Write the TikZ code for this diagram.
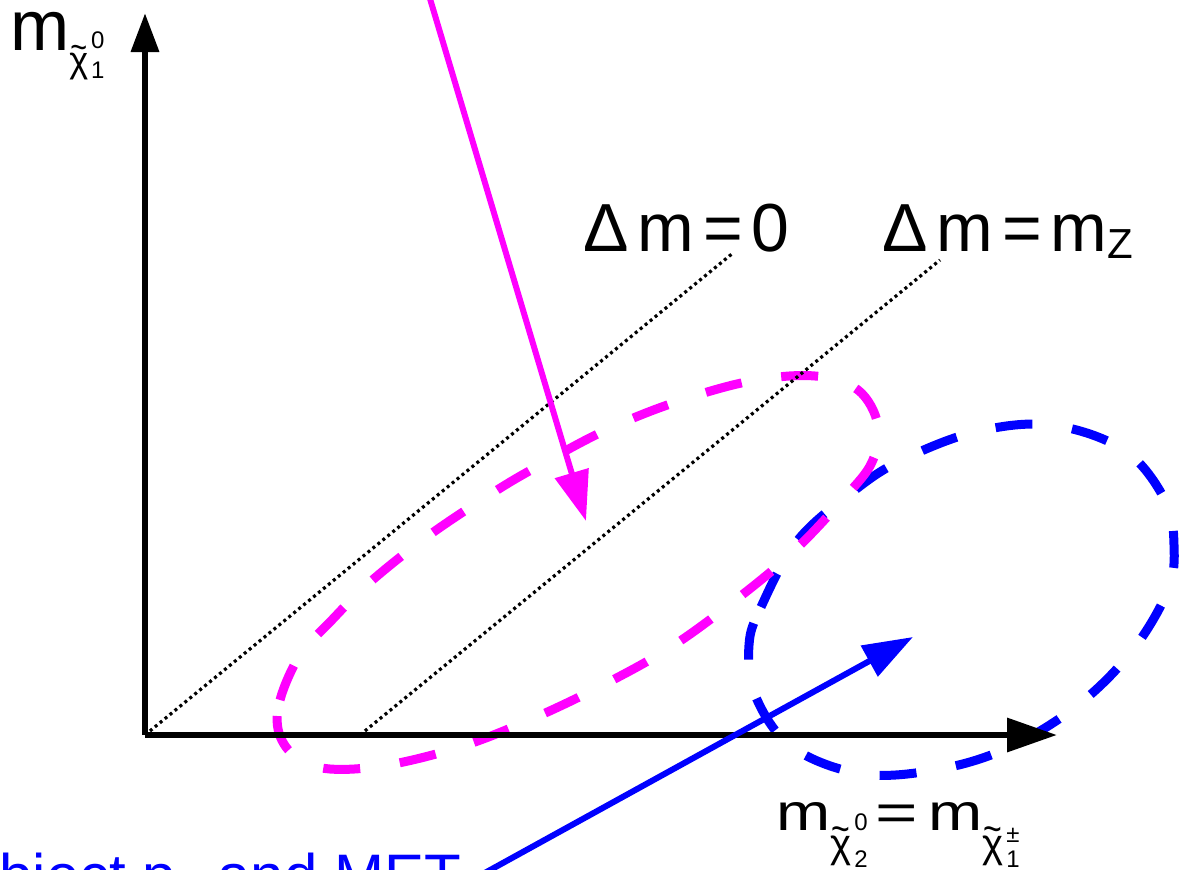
\documentclass[tikz,border=0pt]{standalone}
\usepackage{fontspec}
\setmainfont{Liberation Sans}
\usepackage{graphicx}
\usetikzlibrary{arrows.meta,calc}
\definecolor{mag}{RGB}{255,0,255}
\definecolor{blu}{RGB}{0,0,255}
\newcommand\fs[1]{\fontsize{#1}{#1}\selectfont}
\newcommand\chit{\ooalign{χ\cr\hidewidth\raisebox{0.36em}{\scalebox{0.8}[1]{\textasciitilde}}\hidewidth\cr}}
\tikzset{
  axis/.style   ={line width=6.5pt},
  diag/.style   ={line width=3.2pt,dash pattern=on 3pt off 3.4pt},
  region/.style ={line width=9pt,dash pattern=on 37pt off 40pt},
  pointer/.style={line width=6pt,-{Triangle[length=50pt,width=34pt]}},
  lbl/.style    ={inner sep=0pt,anchor=base west},
}

\begin{document}
\begin{tikzpicture}[x=1pt,y=-1pt]
  \path[fill=white] (0,0) rectangle (1181,870);
  \useasboundingbox (0,0) rectangle (1181,870);

  \coordinate (O)     at (145,735);
  \coordinate (ytop)  at (145,13);
  \coordinate (xend)  at (1057,735);
  \coordinate (d0)    at (733,253);
  \coordinate (dzbot) at (360,735);
  \coordinate (dztop) at (940,260);
  \coordinate (magtail) at (428,-8);
  \coordinate (magtip)  at (586,521);
  \coordinate (blutail) at (472,880);
  \coordinate (blutip)  at (913,637);

  % signal regions
  \draw[region,blu] plot[smooth cycle,tension=0.6] coordinates {
    (749,645) (761,607) (798,540) (855,490) (902,460) (975,432) (1051,425)
    (1124,450) (1165,500) (1174,545) (1168,590) (1132,651) (1078,705)
    (1010,747) (940,769) (863,774) (792,747) (755,695)};
  \draw[region,mag] plot[smooth cycle,tension=0.6] coordinates {
    (279,733) (280,700) (300,655) (330,622) (369,583) (428,536) (494,492)
    (540,465) (606,430) (676,402) (751,381) (815,376) (858,390) (878,425)
    (872,462) (845,497) (792,553) (733,602) (671,647) (605,684) (534,718)
    (463,746) (388,765) (330,769) (297,758)};

  % mass lines
  \draw[diag] (O) -- (d0);
  \draw[diag] (dzbot) -- (dztop);

  % axis lines
  \draw[axis,-{Triangle[length=39pt,width=27pt]}] (O) -- (ytop);
  \draw[axis,-{Triangle[length=50pt,width=33pt]}] (O) -- (xend);

  \draw[pointer,mag] (magtail) -- (magtip);
  \draw[pointer,blu] (blutail) -- (blutip);

  \node[lbl] (ylab) at (10,50)
    {\fs{71}m\raisebox{-22pt}{\fs{36}\chit}\kern3pt\rlap{\raisebox{2pt}{\fs{24}0}}\raisebox{-28pt}{\fs{24}1}};
  \node[lbl] (xlab) at (776,830)
    {\fs{52}\scalebox{1.25}[1]{m}\raisebox{-27pt}{\fs{40}\chit}\kern3pt\rlap{\fs{24}0}\raisebox{-37pt}{\fs{24}2}\kern8pt\scalebox{1.4}[1]{=}\kern10pt\scalebox{1.25}[1]{m}\raisebox{-27pt}{\fs{40}\chit}\kern3pt\rlap{\raisebox{-12pt}{\fs{24}±}}\raisebox{-37pt}{\fs{24}1}};
  \node[lbl] (dm0) at (583,251) {\fs{68}Δ\kern9pt m\kern9pt=\kern9pt 0};
  \node[lbl] (dmz) at (882,251) {\fs{68}Δ\kern9pt m\kern9pt=\kern9pt m\raisebox{-7pt}{\fs{42}Z}};
  \node[lbl,anchor=base east,text=blu] (met) at (461,896)
    {\fs{60}object p\raisebox{-12pt}{\fs{40}T} and MET};
\end{tikzpicture}
\end{document}
